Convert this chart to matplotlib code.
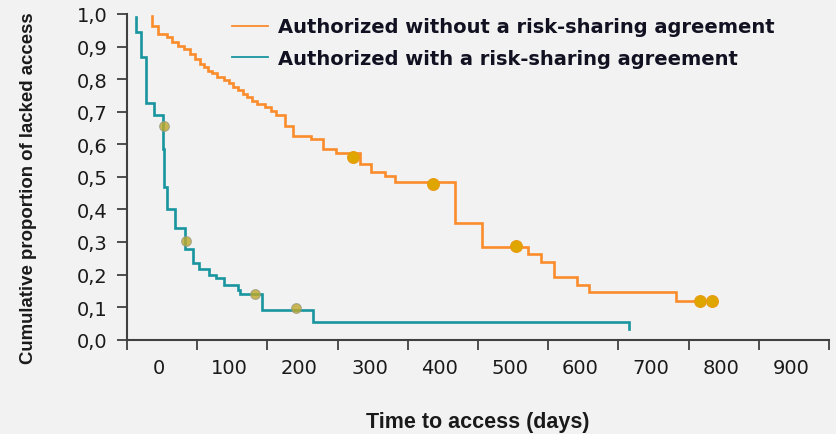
import matplotlib
matplotlib.use('Agg')
import matplotlib.pyplot as plt
from matplotlib.lines import Line2D
import numpy as np

# step curves (days, cumulative proportion)
teal_days = [-33, -33, -25, -18.5, -7, 5, 7.5, 12, 23, 37, 48, 57, 71, 81, 93,
             113, 116, 147, 219, 669]
teal_surv = [0.99, 0.945, 0.867, 0.727, 0.689, 0.585, 0.47, 0.401, 0.342, 0.277,
             0.234, 0.217, 0.200, 0.190, 0.169, 0.153, 0.139, 0.092, 0.054, 0.033]

orange_days = [-10, -10, -2, 12, 19, 27, 35, 44, 51, 58, 64, 70, 76, 82, 92, 99,
               106, 113, 120, 126, 133, 139, 151, 160, 167, 180, 191, 216, 234,
               252, 286, 302, 322, 336, 422, 460, 526, 544, 562, 596, 613, 736, 788]
orange_surv = [0.995, 0.964, 0.939, 0.928, 0.915, 0.903, 0.893, 0.877, 0.862, 0.846,
               0.838, 0.826, 0.818, 0.806, 0.797, 0.787, 0.777, 0.766, 0.754, 0.744,
               0.734, 0.724, 0.714, 0.703, 0.690, 0.657, 0.626, 0.616, 0.585, 0.574,
               0.539, 0.514, 0.502, 0.485, 0.358, 0.284, 0.263, 0.238, 0.192, 0.168,
               0.146, 0.12, 0.12]

# censored observations
teal_cens_days = [7, 38, 137, 195]
teal_cens_surv = [0.656, 0.302, 0.140, 0.096]
orange_cens_days = [276, 390, 509, 770, 788]
orange_cens_surv = [0.562, 0.478, 0.289, 0.12, 0.12]

x_labels = [0, 100, 200, 300, 400, 500, 600, 700, 800, 900]
y_ticks = [0.0, 0.1, 0.2, 0.3, 0.4, 0.5, 0.6, 0.7, 0.8, 0.9, 1.0]
legend_labels = ['Authorized without a risk-sharing agreement',
                 'Authorized with a risk-sharing agreement']

ORANGE = '#fb8c2c'
TEAL = '#18959f'
GOLD = '#e0a600'
BG = '#f2f2f2'
TXT = '#1a1a1a'

fig = plt.figure(figsize=(8.37, 4.35), dpi=100, facecolor=BG)
ax = fig.add_axes([127 / 837, 1 - 340.7 / 435, (829 - 127) / 837, (340.7 - 15) / 435])
ax.set_facecolor(BG)

ax.plot(orange_days, orange_surv, drawstyle='steps-post', color=ORANGE, lw=1.9,
        solid_joinstyle='miter', zorder=2)
ax.plot(teal_days, teal_surv, drawstyle='steps-post', color=TEAL, lw=1.9,
        solid_joinstyle='miter', zorder=3)
ax.plot(orange_cens_days, orange_cens_surv, 'o', color=GOLD, ms=8.5,
        mec='#e89a10', mew=0.8, zorder=4)
ax.plot(teal_cens_days, teal_cens_surv, 'o', color='#c0a828', ms=7, alpha=0.8,
        mec='#9a9a80', mew=0.8, zorder=4)

x0 = -45.6
ax.set_xlim(x0, x0 + 1000)
ax.set_ylim(0, 1.0)
ax.set_xticks([x0 + 100 * k for k in range(11)])
ax.set_xticklabels([])
ax.set_xticks(x_labels, minor=True)
ax.set_xticklabels([str(v) for v in x_labels], minor=True)
ax.set_yticks(y_ticks)
ax.set_yticklabels(['{:.1f}'.format(v).replace('.', ',') for v in y_ticks])

for s in ['top', 'right']:
    ax.spines[s].set_visible(False)
for s in ['left', 'bottom']:
    ax.spines[s].set_color('#404040')
    ax.spines[s].set_linewidth(1.5)
    ax.spines[s].set_capstyle('projecting')

ax.tick_params(axis='both', which='major', direction='out', length=7, width=1.3,
               color='#404040')
ax.tick_params(axis='y', labelsize=14, labelcolor=TXT, pad=7)
ax.tick_params(axis='x', which='minor', length=0, pad=13, labelsize=14,
               labelcolor=TXT)
for lab in ax.get_xticklabels(minor=True) + ax.get_yticklabels():
    lab.set_family('DejaVu Sans')

fig.text(477.5 / 837, 1 - 423 / 435, 'Time to access (days)', ha='center',
         va='center', fontsize=15.5, fontweight='bold', family='Liberation Sans',
         color=TXT)
fig.text(29 / 837, 1 - 188.5 / 435, 'Cumulative proportion of lacked access',
         rotation=90, ha='center', va='center', fontsize=13.4, fontweight='bold',
         family='Liberation Sans', color=TXT)

handles = [Line2D([], [], color=ORANGE, lw=1.3), Line2D([], [], color=TEAL, lw=1.3)]
leg = fig.legend(handles, legend_labels, loc='upper left',
                 bbox_to_anchor=(231.7 / 837, 1 - 18.4 / 435), frameon=False,
                 borderpad=0, borderaxespad=0, handlelength=1.85, handletextpad=0.52,
                 labelspacing=0.63, prop={'family': 'DejaVu Sans', 'weight': 'bold',
                                          'size': 14})
for t in leg.get_texts():
    t.set_color('#111122')

fig.savefig('out.png', dpi=100, facecolor=BG)
